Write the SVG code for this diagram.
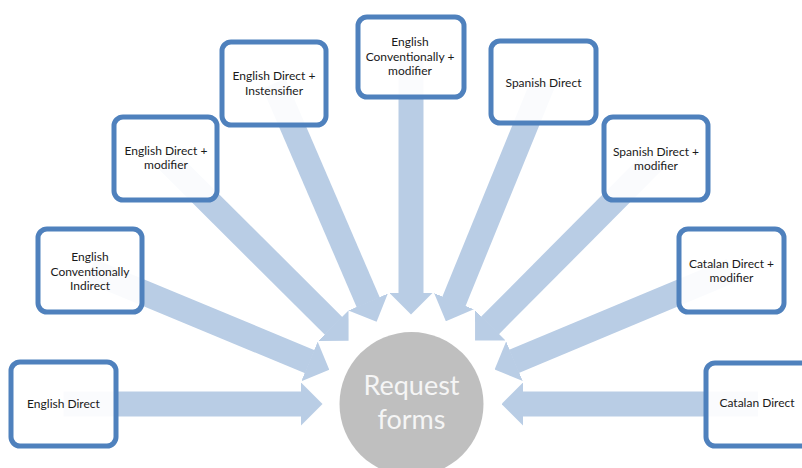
<svg xmlns="http://www.w3.org/2000/svg" width="802" height="468" viewBox="0 0 802 468">
<defs>
<style>
.box{fill:#ffffff;fill-opacity:0.92;stroke:#4f81bd;stroke-width:5}
.lbl{font-family:Lato,"Liberation Sans",sans-serif;font-size:12px;fill:#1a1a1a;text-anchor:middle}
.conn line{stroke:#b9cde5;stroke-width:25;marker-end:url(#ah)}
.hub{font-family:Lato,"Liberation Sans",sans-serif;font-size:27px;fill:#f5f5f5;text-anchor:middle}
</style>
<marker id="ah" markerUnits="strokeWidth" markerWidth="0.86" markerHeight="1.72" refX="0.02" refY="0.86" orient="auto" viewBox="0 0 0.86 1.72">
<path d="M0,0 L0.86,0.86 L0,1.72 Z" fill="#b9cde5"/>
</marker>
</defs>
<rect width="802" height="468" fill="#ffffff"/>
<g id="connectors" class="conn">
<line x1="63.5" y1="404" x2="301.5" y2="404"/>
<line x1="90" y1="270.5" x2="309.9" y2="361.7"/>
<line x1="165.5" y1="158.5" x2="333.7" y2="326"/>
<line x1="274" y1="83.5" x2="368.3" y2="302.5"/>
<line x1="411" y1="57" x2="411" y2="293.5"/>
<line x1="543.5" y1="82" x2="453.8" y2="301.7"/>
<line x1="656" y1="158.5" x2="489.9" y2="325.6"/>
<line x1="731.5" y1="270.5" x2="514" y2="361.4"/>
<line x1="758" y1="404" x2="522.5" y2="404"/>
</g>
<g id="n-english-direct">
<rect class="box" x="11" y="362" width="105" height="84" rx="9"/>
<text class="lbl" x="63.5" y="408">English Direct</text>
</g>
<g id="n-english-conv-indirect">
<rect class="box" x="38" y="229" width="104" height="83" rx="9"/>
<text class="lbl" x="90" y="261">English</text>
<text class="lbl" x="90" y="276">Conventionally</text>
<text class="lbl" x="90" y="290">Indirect</text>
</g>
<g id="n-english-direct-modifier">
<rect class="box" x="114" y="117" width="103" height="83" rx="9"/>
<text class="lbl" x="166" y="155">English Direct +</text>
<text class="lbl" x="166" y="169">modifier</text>
</g>
<g id="n-english-direct-intensifier">
<rect class="box" x="222" y="42" width="104" height="83" rx="9"/>
<text class="lbl" x="274" y="80">English Direct +</text>
<text class="lbl" x="274" y="95">Instensifier</text>
</g>
<g id="n-english-conv-modifier">
<rect class="box" x="358" y="17" width="106" height="80" rx="9"/>
<text class="lbl" x="410" y="46">English</text>
<text class="lbl" x="410" y="61">Conventionally +</text>
<text class="lbl" x="410" y="75">modifier</text>
</g>
<g id="n-spanish-direct">
<rect class="box" x="491" y="41" width="105" height="82" rx="9"/>
<text class="lbl" x="543.5" y="87">Spanish Direct</text>
</g>
<g id="n-spanish-direct-modifier">
<rect class="box" x="604" y="117" width="104" height="83" rx="9"/>
<text class="lbl" x="656" y="156">Spanish Direct +</text>
<text class="lbl" x="656" y="170">modifier</text>
</g>
<g id="n-catalan-direct-modifier">
<rect class="box" x="679" y="229" width="105" height="83" rx="9"/>
<text class="lbl" x="731.5" y="268">Catalan Direct +</text>
<text class="lbl" x="731.5" y="282">modifier</text>
</g>
<g id="n-catalan-direct">
<rect class="box" x="706" y="363" width="104" height="83" rx="9"/>
<text class="lbl" x="757" y="407">Catalan Direct</text>
</g>
<g id="n-request-forms">
<circle cx="411.5" cy="404" r="72" fill="#bfbfbf"/>
<text class="hub" x="411.5" y="395">Request</text>
<text class="hub" x="411.5" y="429">forms</text>
</g>
</svg>
